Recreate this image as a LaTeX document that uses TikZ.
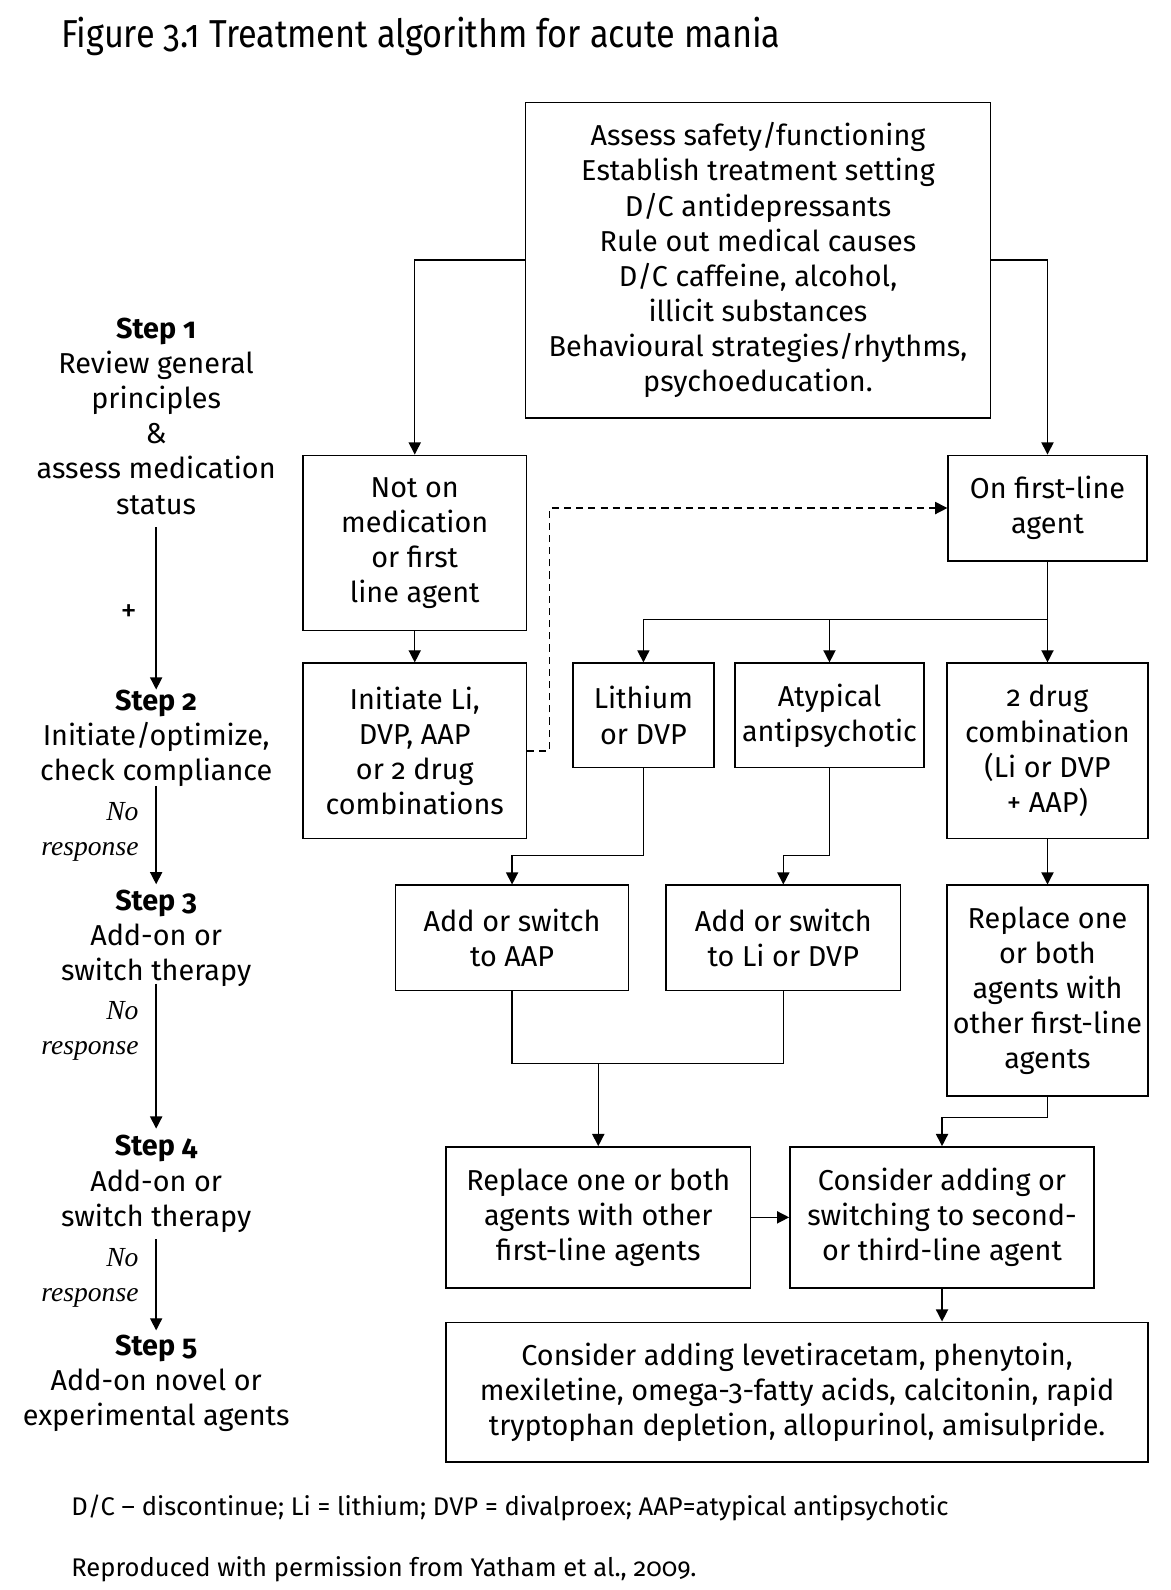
\documentclass[tikz,border=0pt]{standalone}
\usepackage{fontspec}
\setmainfont{Fira Sans}[Numbers=OldStyle]
\newfontfamily\titlefont{Fira Sans}[Numbers=OldStyle, FakeStretch=0.88]
\newfontfamily\serifit{Liberation Serif}
\usetikzlibrary{arrows.meta,calc}
\tikzset{
  txt/.style={font=\fontsize{14.2}{17.3}\selectfont},
  box/.style={txt, draw, line width=0.75pt, inner sep=0pt, align=center},
  sz/.style 2 args={minimum width=#1*0.5pt, minimum height=#2*0.5pt},
  ln/.style={line width=0.7pt},
  arr/.style={ln, -{Triangle[length=6pt,width=6pt]}},
  steptext/.style={txt, align=center, inner sep=0pt},
  nores/.style={align=right, inner sep=0pt, anchor=east, font=\serifit\itshape\fontsize{13.6}{17.3}\selectfont},
  note/.style={anchor=base west, inner sep=0pt, font=\fontsize{12.6}{14}\selectfont},
}
\begin{document}
\begin{tikzpicture}[x=0.5pt,y=-0.5pt]
\useasboundingbox (0,0) rectangle (1154,1568);

% title
\node[anchor=base west, inner sep=0pt, font=\titlefont\fontsize{19.2}{22}\selectfont] (title) at (60,47) {Figure 3.1 Treatment algorithm for acute mania};

% boxes
\node[box, sz={459}{311}] (top) at (747.5,256.5) {Assess safety/functioning\\Establish treatment setting\\D/C antidepressants\\Rule out medical causes\\D/C caffeine, alcohol,\\illicit substances\\Behavioural strategies/rhythms,\\psychoeducation.};
\node[box, sz={220}{173}] (notmed) at (409,535.5) {Not on\\medication\\or first\\line agent};
\node[box, sz={220}{173}] (init) at (409,740.5) {Initiate Li,\\DVP, AAP\\or 2 drug\\combinations};
\node[box, sz={196}{104}] (onfirst) at (1033,501) {On first-line\\agent};
\node[box, sz={139}{103}] (lith) at (634.5,705.5) {Lithium\\or DVP};
\node[box, sz={186}{103}] (atyp) at (818,705.5) {Atypical\\antipsychotic};
\node[box, sz={198}{173}] (combo) at (1033,740.5) {2 drug\\combination\\(Li or DVP\\+ AAP)};
\node[box, sz={230}{104}] (addaap) at (505,925) {Add or switch\\to AAP};
\node[box, sz={231}{104}] (addli) at (772.5,925) {Add or switch\\to Li or DVP};
\node[box, sz={198}{208}] (repr) at (1033,977) {Replace one\\or both\\agents with\\other first-line\\agents};
\node[box, sz={300}{139}] (repl) at (590,1200.5) {Replace one or both\\agents with other\\first-line agents};
\node[box, sz={300}{139}] (cons) at (929,1200.5) {Consider adding or\\switching to second-\\or third-line agent};
\node[box, sz={692}{138}] (final) at (786,1373) {Consider adding levetiracetam, phenytoin,\\mexiletine, omega-3-fatty acids, calcitonin, rapid\\tryptophan depletion, allopurinol, amisulpride.};

% connectors
\draw[arr] (top.west) -| (notmed.north);
\draw[arr] (top.east) -| (onfirst.north);
\draw[arr] (notmed) -- (init);
\draw[arr, dash pattern=on 3.5pt off 2.5pt] (init.east) -- ++(22,0) |- (onfirst.west);
\coordinate (sp) at ($(onfirst.south)+(0,57)$);
\draw[ln] (onfirst.south) -- (sp);
\draw[arr] (sp) -- (combo.north);
\draw[arr] (sp) -| (lith.north);
\draw[arr] (sp -| atyp.north) -- (atyp.north);
\draw[arr] (lith.south) -- ++(0,86) -| (addaap.north);
\draw[arr] (atyp.south) -- ++(0,86) -| (addli.north);
\draw[arr] (combo) -- (repr);
\coordinate (mg) at ($(addaap.south)+(0,71)$);
\draw[ln] (addaap.south) -- (mg) -| (addli.south);
\draw[arr] (mg -| repl.north) -- (repl.north);
\draw[arr] (repr.south) -- ++(0,20) -| (cons.north);
\draw[arr] (repl.east) -- (cons.west);
\draw[arr] (cons.south) -- (cons.south |- final.north);

% left column
\node[steptext] (s1) at (154,410.5) {\textbf{Step 1}\\Review general\\principles\\\&\\assess medication\\status};
\node[steptext] (s2) at (154,728.5) {\textbf{Step 2}\\Initiate/optimize,\\check compliance};
\node[steptext] (s3) at (154,925) {\textbf{Step 3}\\Add-on or\\switch therapy};
\node[steptext] (s4) at (154,1167.5) {\textbf{Step 4}\\Add-on or\\switch therapy};
\node[steptext] (s5) at (154,1364.5) {\textbf{Step 5}\\Add-on novel or\\experimental agents};

\coordinate (a1s) at (154,520); \coordinate (a1e) at (154,680);
\coordinate (a2s) at (154,775); \coordinate (a2e) at (154,872);
\coordinate (a3s) at (154,970); \coordinate (a3e) at (154,1113);
\coordinate (a4s) at (154,1222); \coordinate (a4e) at (154,1312);
\draw[arr] (a1s) -- (a1e);
\draw[arr] (a2s) -- (a2e);
\draw[arr] (a3s) -- (a3e);
\draw[arr] (a4s) -- (a4e);
\node[inner sep=0pt, font=\fontsize{16}{17}\selectfont] (plus) at (127,605) {+};
\node[nores] (nr2) at (137,820.5) {No\\response};
\node[nores] (nr3) at (137,1016.5) {No\\response};
\node[nores] (nr4) at (137,1260) {No\\response};

% notes
\node[note] (n1) at (70,1495) {D/C – discontinue; Li = lithium; DVP = divalproex; AAP=atypical antipsychotic};
\node[note] (n2) at (70,1555) {Reproduced with permission from Yatham et al., 2009.};
\end{tikzpicture}
\end{document}
